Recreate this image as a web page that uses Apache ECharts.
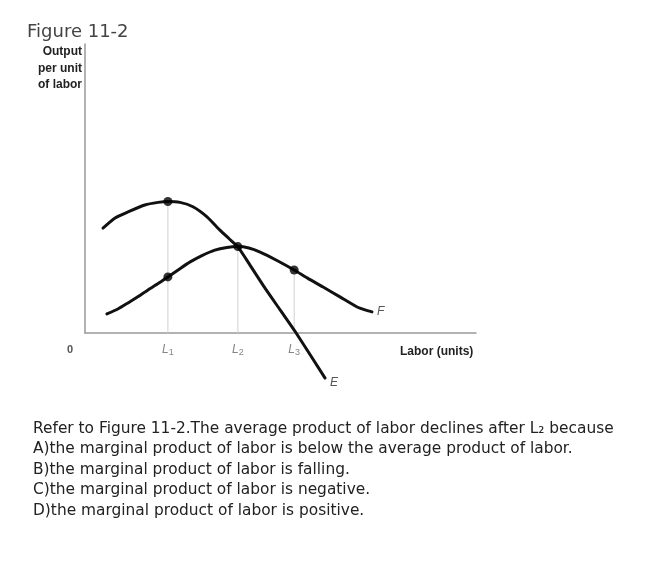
<!DOCTYPE html>
<html><head><meta charset="utf-8">
<script src="https://cdn.jsdelivr.net/npm/echarts@6/dist/echarts.min.js"></script>
<style>html,body{margin:0;padding:0;background:#fff}#c{width:654px;height:562px}</style>
</head><body><div id="c"></div>
<script>
// Marginal product curve E: [labor, output per unit]
const curveE = [[4.6,36.3],[7.7,39.8],[11.0,41.9],[15.3,44.3],[18.7,45.2],[21.2,45.5],[24.3,45.2],[27.6,43.7],[31.2,40.2],[34.5,35.6],[36.8,32.7],[39.1,29.8],[42.2,23.5],[46.0,15.6],[49.9,8.0],[54.0,0],[61.4,-15.6]];
// Average product curve F
const curveF = [[5.6,6.6],[8.4,8.3],[11.0,10.4],[13.6,12.6],[16.1,14.9],[18.7,17.1],[21.2,19.4],[24.0,22.0],[26.9,24.6],[29.9,26.8],[33.2,28.7],[36.3,29.6],[39.1,29.9],[41.9,29.4],[44.8,28.0],[49.1,25.1],[53.5,21.8],[57.0,18.9],[60.9,15.9],[65.2,12.5],[69.6,9.0],[71.6,8.0],[73.4,7.3]];
// Highlighted points
const dots = [[21.2,45.5],[21.2,19.4],[39.1,29.9],[53.5,21.8]];
// Tick positions and labels on labor axis
const tickValues = [21.2, 39.1, 53.5];
const tickLabels = ['1','2','3'];
// Height of each reference line (top dot)
const guideTops = [45.5, 29.9, 21.8];

const yAxisTitle = ['Output','per unit','of labor'];
const questionLines = [
  'Refer to Figure 11-2.The average product of labor declines after L\u2082 because',
  'A)the marginal product of labor is below the average product of labor.',
  'B)the marginal product of labor is falling.',
  'C)the marginal product of labor is negative.',
  'D)the marginal product of labor is positive.'
];

const chart = echarts.init(document.getElementById('c'), null, {renderer:'canvas'});
const grey = '#999';
const series = [];
tickValues.forEach((x,i)=>{
  series.push({type:'line', data:[[x,0],[x,guideTops[i]]], symbol:'none', silent:true,
    lineStyle:{color:'#d0d0d0', width:1}, z:1});
});
series.push({type:'line', name:'E', data:curveE, smooth:0.2, symbol:'none', clip:false,
  lineStyle:{color:'#111', width:3, join:'round', cap:'round'}, z:3,
  endLabel:{show:true, formatter:'E', fontStyle:'italic', fontFamily:'Liberation Sans', fontSize:12, color:'#555', offset:[-3,5]}});
series.push({type:'line', name:'F', data:curveF, smooth:0.2, symbol:'none', clip:false,
  lineStyle:{color:'#111', width:3, join:'round', cap:'round'}, z:3,
  endLabel:{show:true, formatter:'F', fontStyle:'italic', fontFamily:'Liberation Sans', fontSize:12, color:'#555', offset:[-3,0]}});
series.push({type:'scatter', data:dots, symbolSize:9, itemStyle:{color:'#000'}, z:4});
series.push({type:'scatter', data:tickValues.map((x,i)=>({value:[x,0], name:tickLabels[i]})), symbolSize:0, z:4,
  label:{show:true, position:'bottom', distance:9, formatter:p=>'{l|L}{s|'+p.name+'}',
    rich:{l:{fontStyle:'italic', fontFamily:'Liberation Sans', fontSize:12, color:'#666'},
          s:{fontFamily:'Liberation Sans', fontSize:9, color:'#666', padding:[6,0,0,0]}}}});

const textEls = [
  {type:'text', x:27, y:23, style:{text:'Figure 11-2', font:'18px "DejaVu Sans"', fill:'#444'}},
  {type:'text', x:67, y:344, style:{text:'0', font:'bold 11px "Liberation Sans"', fill:'#555'}},
  {type:'text', x:400, y:346, style:{text:'Labor (units)', font:'bold 12px "Liberation Sans"', fill:'#222'}}
];
yAxisTitle.forEach((t,i)=>{
  textEls.push({type:'text', x:82, y:46+i*16.5, style:{text:t, font:'bold 12px "Liberation Sans"', fill:'#222', align:'right'}});
});
questionLines.forEach((t,i)=>{
  textEls.push({type:'text', x:33, y:421+i*20.5, style:{text:t, font:'15.4px "DejaVu Sans"', fill:'#222'}});
});

chart.setOption({
  animation:false,
  backgroundColor:'#fff',
  grid:{left:85, top:44, width:391, height:289},
  xAxis:{type:'value', min:0, max:100, axisLine:{show:true, lineStyle:{color:grey, width:1.5}}, axisTick:{show:false}, axisLabel:{show:false}, splitLine:{show:false}},
  yAxis:{type:'value', min:0, max:100, axisLine:{show:true, lineStyle:{color:grey, width:1.5}}, axisTick:{show:false}, axisLabel:{show:false}, splitLine:{show:false}},
  series:series,
  graphic:textEls
});
</script></body></html>
